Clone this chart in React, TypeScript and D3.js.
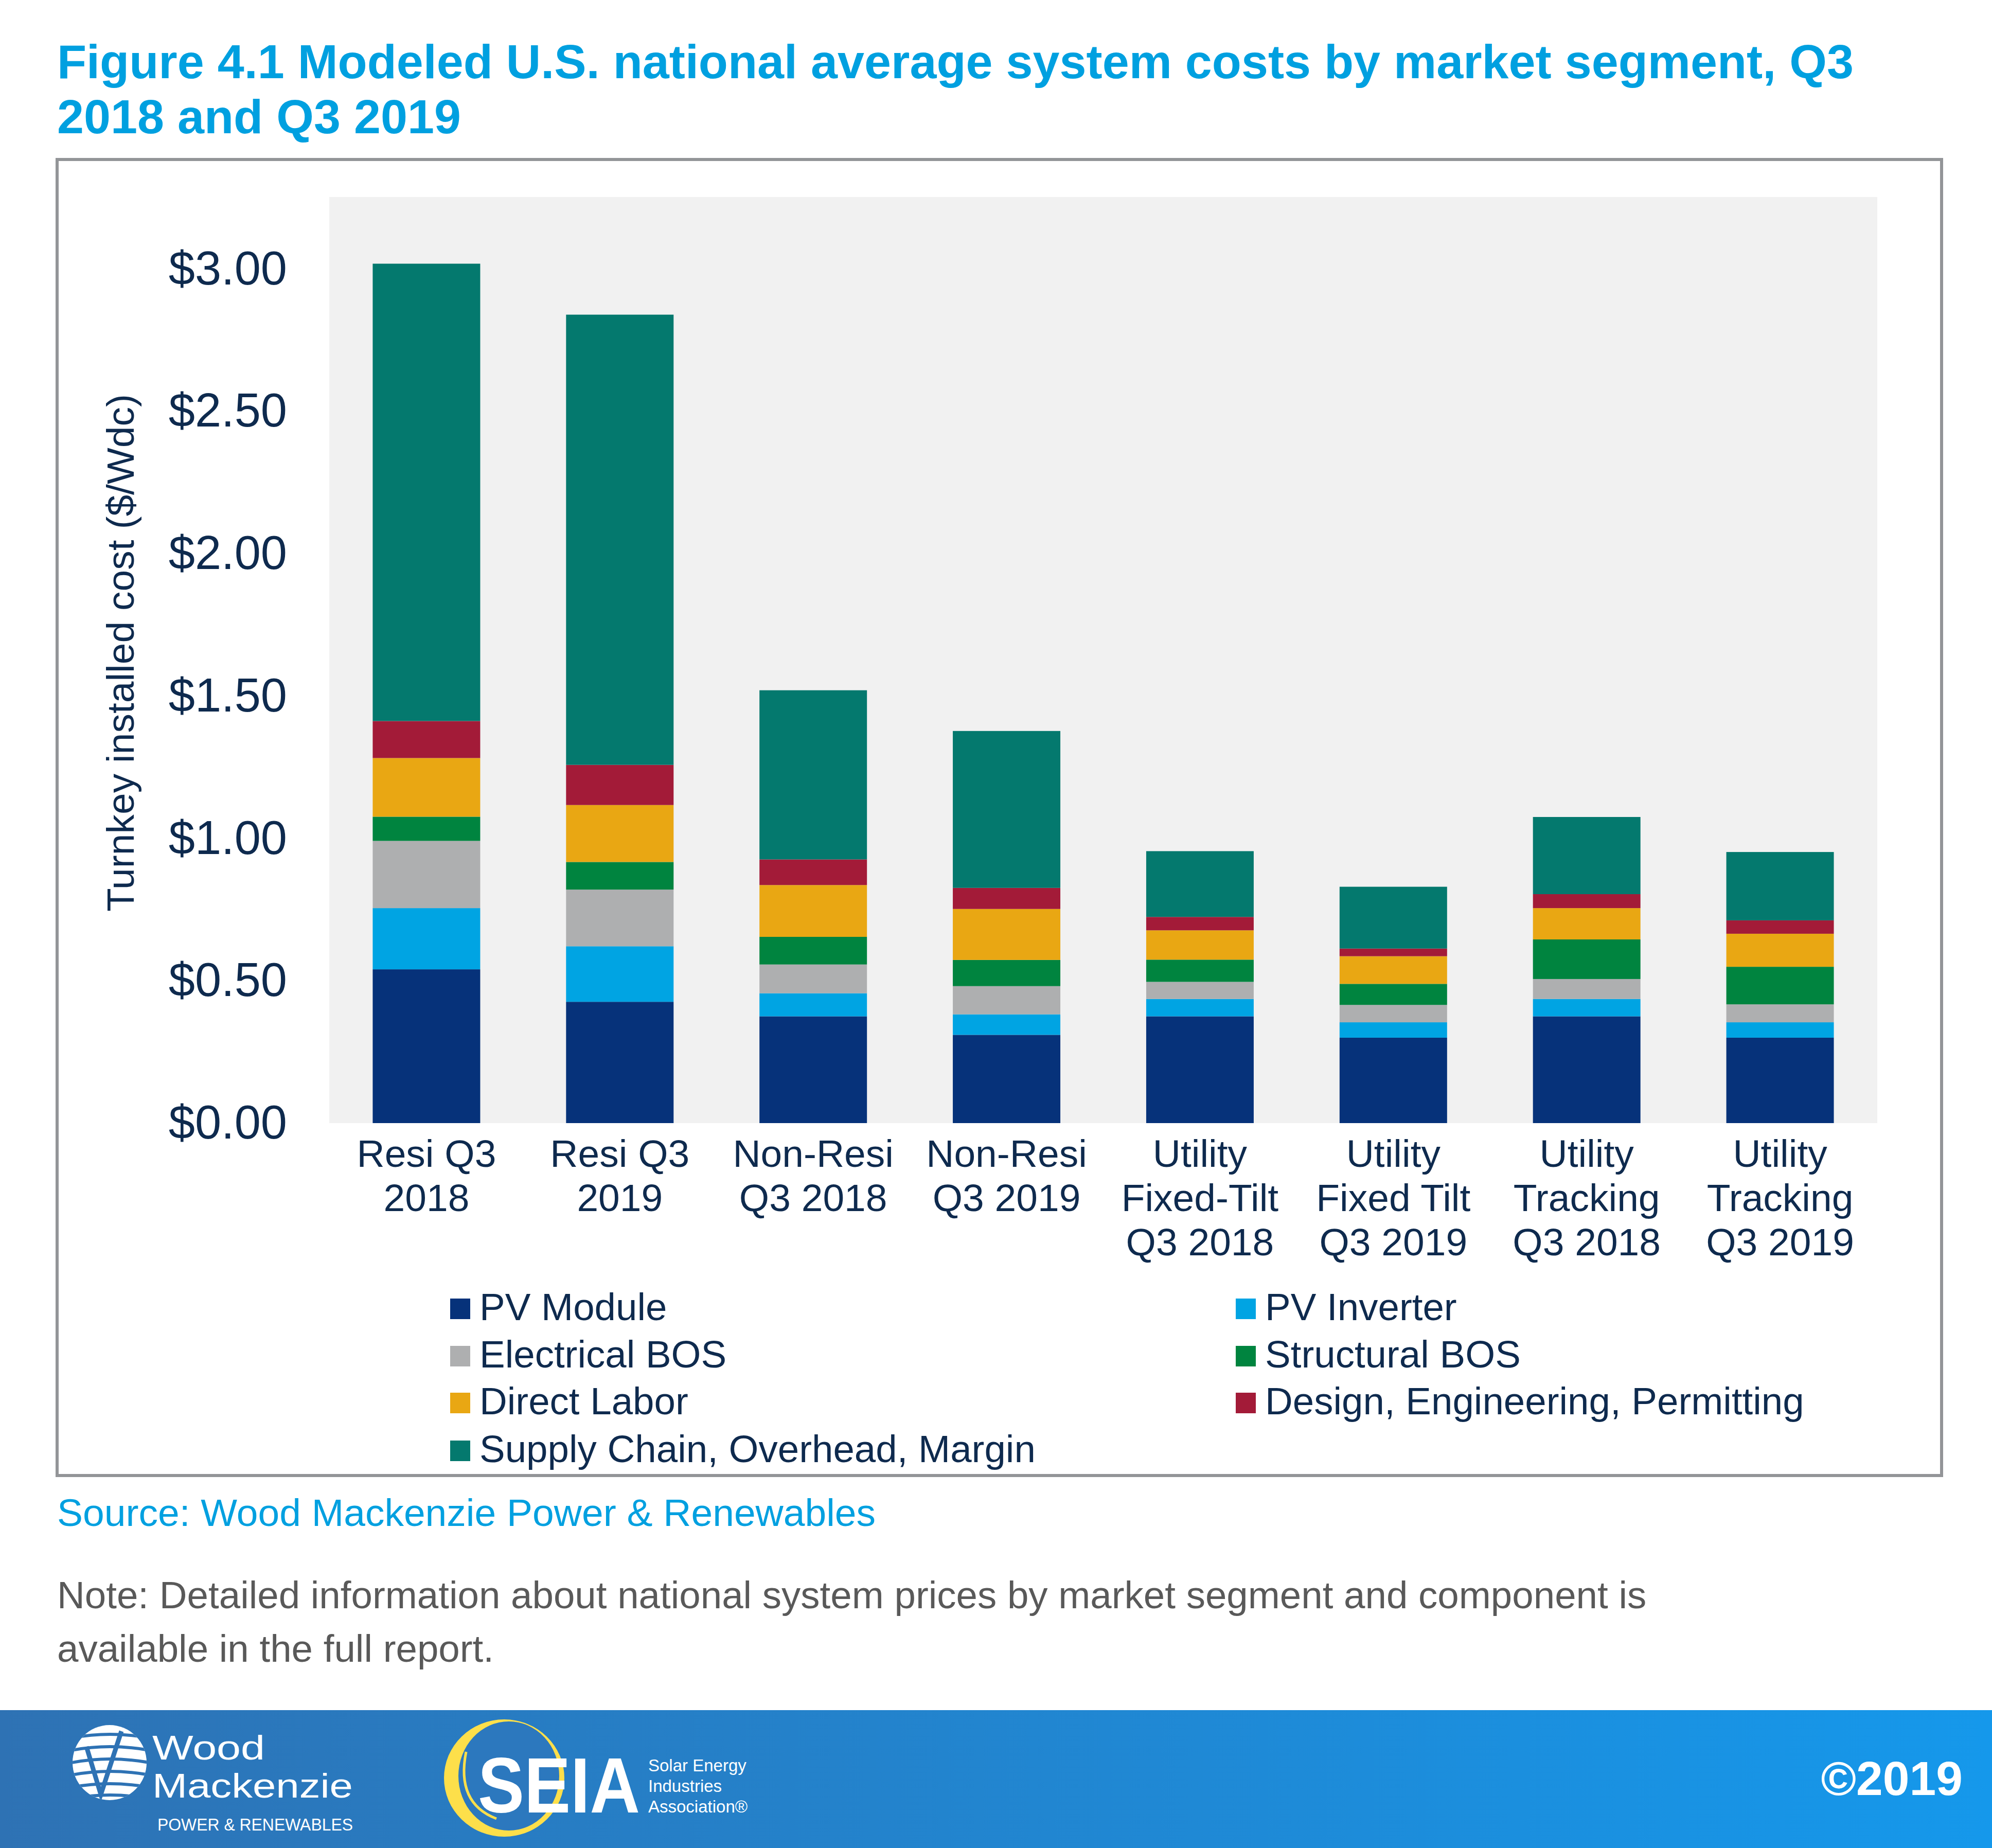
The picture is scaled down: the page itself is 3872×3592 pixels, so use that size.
import React from "react";
import * as d3 from "d3";

// ---------- data ----------
const categories = [
  "Resi Q3 2018",
  "Resi Q3 2019",
  "Non-Resi Q3 2018",
  "Non-Resi Q3 2019",
  "Utility Fixed-Tilt Q3 2018",
  "Utility Fixed Tilt Q3 2019",
  "Utility Tracking Q3 2018",
  "Utility Tracking Q3 2019",
];
const categoryLines = [
  ["Resi Q3", "2018"],
  ["Resi Q3", "2019"],
  ["Non-Resi", "Q3 2018"],
  ["Non-Resi", "Q3 2019"],
  ["Utility", "Fixed-Tilt", "Q3 2018"],
  ["Utility", "Fixed Tilt", "Q3 2019"],
  ["Utility", "Tracking", "Q3 2018"],
  ["Utility", "Tracking", "Q3 2019"],
];
const seriesNames = [
  "PV Module",
  "PV Inverter",
  "Electrical BOS",
  "Structural BOS",
  "Direct Labor",
  "Design, Engineering, Permitting",
  "Supply Chain, Overhead, Margin",
];
const seriesColors = ["#06327A", "#00A4E3", "#AEAFB0", "#00843F", "#E9A713", "#A31B38", "#04796E"];

const pvModule = [0.54, 0.426, 0.375, 0.31, 0.375, 0.3, 0.375, 0.3];
const pvInverter = [0.215, 0.195, 0.081, 0.072, 0.061, 0.054, 0.061, 0.054];
const electricalBOS = [0.236, 0.199, 0.101, 0.099, 0.06, 0.061, 0.07, 0.063];
const structuralBOS = [0.085, 0.097, 0.097, 0.092, 0.078, 0.074, 0.139, 0.132];
const directLabor = [0.206, 0.2, 0.182, 0.179, 0.103, 0.097, 0.11, 0.116];
const designEngPermit = [0.13, 0.141, 0.09, 0.074, 0.047, 0.027, 0.049, 0.047];
const supplyChainMargin = [1.606, 1.581, 0.594, 0.551, 0.231, 0.217, 0.271, 0.24];

const yTicks = [0, 0.5, 1, 1.5, 2, 2.5, 3];
const yTickLabels = ["$0.00", "$0.50", "$1.00", "$1.50", "$2.00", "$2.50", "$3.00"];

const titleLines = [
  "Figure 4.1 Modeled U.S. national average system costs by market segment, Q3",
  "2018 and Q3 2019",
];
const yAxisTitle = "Turnkey installed cost ($/Wdc)";
const sourceText = "Source: Wood Mackenzie Power & Renewables";
const noteLines = [
  "Note: Detailed information about national system prices by market segment and component is",
  "available in the full report.",
];
const seiaSubLines = ["Solar Energy", "Industries", "Association®"];

// ---------- layout ----------
const W = 3872;
const H = 3592;
const FONT = "'Liberation Sans', Arial, Helvetica, sans-serif";
const NAVY = "#0E2A4E";
const BLUE = "#00A0E0";

export default function App() {
  const seriesArrays = [pvModule, pvInverter, electricalBOS, structuralBOS, directLabor, designEngPermit, supplyChainMargin];
  const keys = seriesNames;
  const table = categories.map((c, i) => {
    const row: any = { category: c };
    keys.forEach((k, j) => (row[k] = seriesArrays[j][i]));
    return row;
  });
  const stacked = d3.stack().keys(keys)(table as any);

  const x = d3
    .scaleBand<string>()
    .domain(categories)
    .range([641, 3648])
    .paddingInner(0.444)
    .paddingOuter(0.222);
  const y = d3.scaleLinear().domain([0, 3]).range([2183, 522.5]);
  const color = d3.scaleOrdinal<string, string>().domain(keys).range(seriesColors);

  const legendCols = [875, 2402];
  const legendRows = [2566, 2658, 2749, 2842];

  return (
    <svg
      width={W}
      height={H}
      viewBox={`0 0 ${W} ${H}`}
      style={{ position: "absolute", left: 0, top: 0, background: "#fff" }}
      fontFamily={FONT}
    >
      <defs>
        <linearGradient id="footerGrad" x1="0" x2="1" y1="0" y2="0">
          <stop offset="0" stopColor="#2E72B4" />
          <stop offset="1" stopColor="#1598EB" />
        </linearGradient>
        <clipPath id="globeClip">
          <ellipse cx={213} cy={3426} rx={72} ry={73} />
        </clipPath>
      </defs>
      <rect x={0} y={0} width={W} height={H} fill="#fff" />

      {/* title */}
      {titleLines.map((t, i) => (
        <text key={i} x={111} y={152 + i * 107} fontSize={93.5} fontWeight="bold" fill={BLUE}>
          {t}
        </text>
      ))}

      {/* frame */}
      <rect x={111} y={310} width={3663} height={2558} fill="none" stroke="#939598" strokeWidth={6} />

      {/* plot background */}
      <rect x={640} y={383} width={3009} height={1800} fill="#F1F1F1" />

      {/* bars */}
      {stacked.map((s) => (
        <g key={s.key} fill={color(s.key)}>
          {s.map((d: any, i) => (
            <rect
              key={i}
              x={x(categories[i])}
              y={y(d[1])}
              width={x.bandwidth()}
              height={y(d[0]) - y(d[1])}
            />
          ))}
        </g>
      ))}

      {/* y tick labels */}
      {yTicks.map((t, i) => (
        <text key={i} x={558} y={y(t) + 30} fontSize={92} fill={NAVY} textAnchor="end">
          {yTickLabels[i]}
        </text>
      ))}

      {/* y axis title */}
      <text transform={`translate(260, 1269) rotate(-90)`} fontSize={75} fill={NAVY} textAnchor="middle">
        {yAxisTitle}
      </text>

      {/* x labels */}
      {categories.map((c, i) => (
        <text key={c} fontSize={75} fill={NAVY} textAnchor="middle">
          {categoryLines[i].map((ln, li) => (
            <tspan key={li} x={(x(c) as number) + x.bandwidth() / 2} y={2268 + li * 86}>
              {ln}
            </tspan>
          ))}
        </text>
      ))}

      {/* legend */}
      {keys.map((k, i) => {
        const cx = legendCols[i % 2];
        const by = legendRows[Math.floor(i / 2)];
        return (
          <g key={k}>
            <rect x={cx} y={by - 42} width={39} height={40} fill={color(k)} />
            <text x={cx + 57} y={by} fontSize={74.5} fill={NAVY}>
              {k}
            </text>
          </g>
        );
      })}

      {/* source & note */}
      <text x={111} y={2966} fontSize={75} fill={BLUE}>
        {sourceText}
      </text>
      {noteLines.map((t, i) => (
        <text key={i} x={111} y={3126 + i * 104} fontSize={74.5} fill="#595959">
          {t}
        </text>
      ))}

      {/* footer */}
      <rect x={0} y={3324} width={W} height={H - 3324} fill="url(#footerGrad)" />

      {/* Wood Mackenzie logo */}
      <g>
        <g clipPath="url(#globeClip)">
          <rect x={130} y={3340} width={170} height={180} fill="#fff" />
          {[3372, 3396, 3420, 3444, 3468, 3490].map((yy, i) => (
            <path
              key={i}
              d={`M130 ${yy + 8} Q213 ${yy - 10} 300 ${yy + 8}`}
              fill="none"
              stroke="#2E72B4"
              strokeWidth={6}
            />
          ))}
          <path d="M168 3395 L196 3488 L236 3365" fill="none" stroke="#2E72B4" strokeWidth={9} />
        </g>
        <text x={296} y={3420} fontSize={66} fill="#fff" textLength={219} lengthAdjust="spacingAndGlyphs">
          Wood
        </text>
        <text x={296} y={3494} fontSize={66} fill="#fff" textLength={390} lengthAdjust="spacingAndGlyphs">
          Mackenzie
        </text>
        <text x={306} y={3558} fontSize={34} fill="#fff" textLength={380} lengthAdjust="spacingAndGlyphs">
          POWER &amp; RENEWABLES
        </text>
      </g>

      {/* SEIA logo */}
      <g>
        <ellipse cx={980} cy={3456} rx={117} ry={114} fill="#FDDF4A" />
        <ellipse cx={989} cy={3452} rx={98} ry={106} fill="#2C78BE" />
        <path d="M906 3405 Q886 3505 965 3535" fill="none" stroke="#FDDF4A" strokeWidth={5} />
        <text transform="translate(929, 3523) scale(1, 1.13)" x={0} y={0} fontSize={135} fontWeight="bold" fill="#fff">
          SEIA
        </text>
        {seiaSubLines.map((t, i) => (
          <text key={i} x={1260} y={3443 + i * 40} fontSize={33} fill="#fff">
            {t}
          </text>
        ))}
      </g>

      <text x={3815} y={3489} fontSize={93} fontWeight="bold" fill="#fff" textAnchor="end">
        ©2019
      </text>
    </svg>
  );
}
